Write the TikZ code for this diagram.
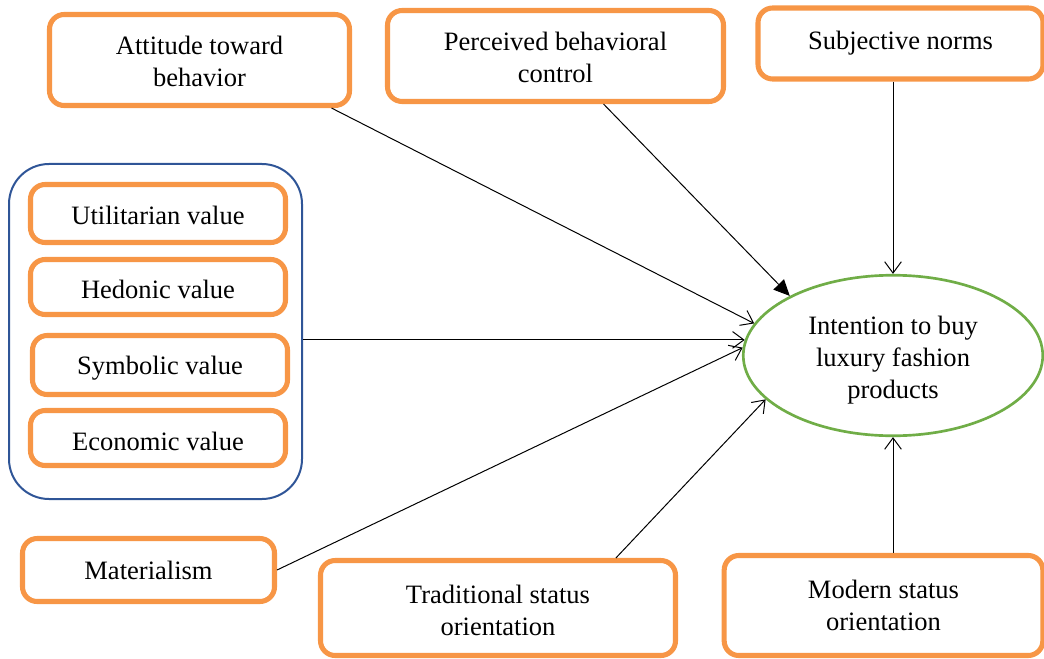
\documentclass[tikz,border=0pt]{standalone}
\usepackage{fontspec}
\setmainfont{Liberation Serif}
\usetikzlibrary{arrows.meta,shapes.geometric,calc}
\definecolor{boxorange}{HTML}{F79646}
\definecolor{grpblue}{HTML}{2F5597}
\definecolor{ellgreen}{HTML}{70AD47}
\newcommand{\dn}[1]{\rule{0pt}{#1}}
\begin{document}
\begin{tikzpicture}[x=0.75pt,y=-0.75pt,
  font=\fontsize{19.9}{24}\selectfont,
  box/.style={draw=boxorange, line width=3.8pt, rounded corners=11pt, align=center, inner sep=0pt, fill=white},
  txtdown/.style={execute at begin node={\rule{0pt}{#1}}},
  grpbox/.style={draw=grpblue, line width=1.5pt, rounded corners=30pt, inner sep=0pt},
  ellnode/.style={ellipse, draw=ellgreen, line width=2pt, align=center, inner sep=0pt},
  conn/.style={line width=0.75pt, -{Straight Barb[length=8.5pt,width=12.5pt,line width=0.75pt]}},
  connfill/.style={line width=0.75pt, -{Triangle[length=12pt,width=11pt]}}]
\useasboundingbox (0,0) rectangle (1044,659);

\node[box, minimum width=225pt, minimum height=68.25pt] (att) at (199.5,60) {\dn{16.6pt}Attitude toward\\behavior};
\node[box, minimum width=252pt, minimum height=68.25pt] (pbc) at (555.5,56) {\dn{15.8pt}Perceived behavioral\\control};
\node[box, minimum width=213.75pt, minimum height=53.25pt] (sn) at (900.5,43.5) {Subjective norms};

\node[grpbox, minimum width=219.75pt, minimum height=251.25pt] (grp) at (155.5,331.5) {};
\node[box, txtdown=16.6pt, minimum width=191.25pt, minimum height=43.5pt] (ut) at (158,213.5) {Utilitarian value};
\node[box, txtdown=17.4pt, minimum width=191.25pt, minimum height=41.25pt] (he) at (158,287) {Hedonic value};
\node[box, txtdown=18.6pt, minimum width=191.25pt, minimum height=44.25pt] (sy) at (160,365) {Symbolic value};
\node[box, txtdown=19pt, minimum width=191.25pt, minimum height=41.25pt] (ec) at (158,438) {Economic value};

\node[box, minimum width=189pt, minimum height=47.25pt] (mat) at (148.5,570) {Materialism};
\node[box, minimum width=266.25pt, minimum height=71.25pt] (trad) at (498,608) {\dn{17.3pt}Traditional status\\orientation};
\node[box, minimum width=239pt, minimum height=75pt] (mod) at (883.5,605.5) {Modern status\\orientation};

\node[ellnode, minimum width=224.6pt, minimum height=120.4pt] (int) at (893,355.5) {\dn{21.1pt}Intention to buy\\luxury fashion\\products};

\draw[conn] (att.-20) -- (int.167);
\draw[connfill] (pbc.-45) -- (int.150);
\draw[conn] (int.north |- sn.south) -- (int.north);
\draw[conn] (grp.east |- int.174) -- (int.174);
\draw[conn] (mat.east) -- (int.177);
\draw[conn] (trad.23) -- (int.199);
\draw[conn] (int.south |- mod.north) -- (int.south);
\end{tikzpicture}
\end{document}
